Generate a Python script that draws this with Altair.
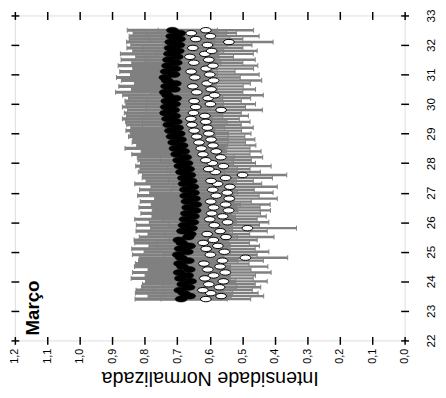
import altair as alt
import pandas as pd

# sample positions (22-33 axis)
t = [23.4, 23.5, 23.6, 23.7, 23.8, 23.9, 24.0, 24.1, 24.2, 24.3,
     24.4, 24.5, 24.6, 24.7, 24.8, 24.9, 25.0, 25.1, 25.2, 25.3,
     25.4, 25.5, 25.6, 25.7, 25.8, 25.9, 26.0, 26.1, 26.2, 26.3,
     26.4, 26.5, 26.6, 26.7, 26.8, 26.9, 27.0, 27.1, 27.2, 27.3,
     27.4, 27.5, 27.6, 27.7, 27.8, 27.9, 28.0, 28.1, 28.2, 28.3,
     28.4, 28.5, 28.6, 28.7, 28.8, 28.9, 29.0, 29.1, 29.2, 29.3,
     29.4, 29.5, 29.6, 29.7, 29.8, 29.9, 30.0, 30.1, 30.2, 30.3,
     30.4, 30.5, 30.6, 30.7, 30.8, 30.9, 31.0, 31.1, 31.2, 31.3,
     31.4, 31.5, 31.6, 31.7, 31.8, 31.9, 32.0, 32.1, 32.2, 32.3,
     32.4, 32.5]

black = [0.688, 0.662, 0.679, 0.692, 0.664, 0.683, 0.659, 0.690, 0.668, 0.694,
         0.663, 0.684, 0.693, 0.666, 0.688, 0.697, 0.669, 0.691, 0.662, 0.686,
         0.695, 0.666, 0.660, 0.684, 0.656, 0.679, 0.652, 0.676, 0.650, 0.672,
         0.645, 0.668, 0.643, 0.670, 0.647, 0.674, 0.650, 0.675, 0.652, 0.679,
         0.657, 0.681, 0.661, 0.687, 0.665, 0.692, 0.670, 0.696, 0.674, 0.702,
         0.680, 0.707, 0.685, 0.711, 0.690, 0.716, 0.694, 0.721, 0.699, 0.726,
         0.703, 0.730, 0.708, 0.736, 0.711, 0.734, 0.708, 0.732, 0.705, 0.730,
         0.737, 0.709, 0.733, 0.706, 0.731, 0.738, 0.710, 0.734, 0.707, 0.730,
         0.703, 0.727, 0.700, 0.724, 0.697, 0.722, 0.695, 0.720, 0.693, 0.717,
         0.692, 0.715]

black_err = [0.142, 0.128, 0.150, 0.135, 0.146, 0.124, 0.139, 0.152, 0.131, 0.144,
             0.127, 0.148, 0.136, 0.153, 0.129, 0.141, 0.133, 0.149, 0.125, 0.145,
             0.138, 0.151, 0.130, 0.143, 0.126, 0.147, 0.134, 0.155, 0.128, 0.140,
             0.132, 0.150, 0.137, 0.144, 0.123, 0.148, 0.135, 0.141, 0.129, 0.152,
             0.139, 0.127, 0.146, 0.133, 0.150, 0.136, 0.143, 0.125, 0.149, 0.138,
             0.131, 0.154, 0.140, 0.128, 0.147, 0.134, 0.151, 0.137, 0.144, 0.130,
             0.156, 0.139, 0.148, 0.127, 0.142, 0.135, 0.150, 0.129, 0.145, 0.138,
             0.153, 0.132, 0.147, 0.126, 0.141, 0.149, 0.134, 0.143, 0.130, 0.152,
             0.137, 0.146, 0.128, 0.151, 0.140, 0.133, 0.148, 0.136, 0.155, 0.131,
             0.144, 0.139]

white = [0.612, 0.565, 0.597, 0.621, 0.570, 0.603, 0.558, 0.615, 0.588, 0.552,
         0.606, 0.568, 0.618, 0.561, 0.490, 0.598, 0.555, 0.611, 0.575, 0.620,
         0.589, 0.550, 0.608, 0.568, 0.484, 0.586, 0.545, 0.600, 0.560, 0.594,
         0.542, 0.588, 0.551, 0.597, 0.540, 0.580, 0.546, 0.591, 0.538, 0.576,
         0.596, 0.551, 0.499, 0.583, 0.603, 0.558, 0.592, 0.612, 0.566, 0.621,
         0.580, 0.626, 0.590, 0.633, 0.596, 0.640, 0.603, 0.648, 0.607, 0.655,
         0.612, 0.658, 0.615, 0.650, 0.565, 0.643, 0.598, 0.648, 0.605, 0.585,
         0.640, 0.596, 0.652, 0.608, 0.588, 0.646, 0.600, 0.657, 0.611, 0.590,
         0.649, 0.603, 0.661, 0.615, 0.594, 0.652, 0.607, 0.541, 0.643, 0.598,
         0.657, 0.612]

white_err = [0.138, 0.131, 0.146, 0.152, 0.127, 0.143, 0.135, 0.149, 0.129, 0.141,
             0.133, 0.147, 0.139, 0.126, 0.130, 0.144, 0.137, 0.151, 0.128, 0.142,
             0.135, 0.148, 0.131, 0.145, 0.151, 0.139, 0.127, 0.146, 0.134, 0.150,
             0.129, 0.143, 0.137, 0.125, 0.148, 0.132, 0.141, 0.128, 0.146, 0.136,
             0.130, 0.144, 0.136, 0.139, 0.127, 0.147, 0.133, 0.140, 0.129, 0.145,
             0.138, 0.150, 0.132, 0.143, 0.135, 0.148, 0.130, 0.146, 0.141, 0.152,
             0.136, 0.149, 0.134, 0.147, 0.127, 0.153, 0.139, 0.145, 0.131, 0.150,
             0.142, 0.137, 0.155, 0.133, 0.148, 0.140, 0.152, 0.135, 0.146, 0.138,
             0.151, 0.143, 0.134, 0.149, 0.140, 0.154, 0.137, 0.136, 0.145, 0.150,
             0.139, 0.147]

x_ticks = [0.0, 0.1, 0.2, 0.3, 0.4, 0.5, 0.6, 0.7, 0.8, 0.9, 1.0, 1.1, 1.2]
y_ticks = [22, 23, 24, 25, 26, 27, 28, 29, 30, 31, 32, 33]

df = pd.DataFrame({"t": t, "black": black, "black_err": black_err,
                   "white": white, "white_err": white_err})

FONT = "Liberation Sans"
GRAY = "#808080"
ELLIPSE = "M-1,0A1,0.5,0,1,0,1,0A1,0.5,0,1,0,-1,0Z"
CAP = "M0,-1L0,1"

xscale = alt.Scale(domain=[0, 1.2], reverse=True, nice=False, zero=False)
yscale = alt.Scale(domain=[22, 33], nice=False, zero=False)

tick_common = dict(values=x_ticks, tickSize=8, offset=-4, domain=False, grid=False,
                   tickColor="black", tickWidth=1.5)
ax_bottom = alt.Axis(orient="bottom", labelExpr="replace(format(datum.value, '.1f'), '.', ',')",
                     labelAngle=270, labelAlign="right", labelBaseline="middle",
                     labelFont=FONT, labelFontSize=11, labelColor="black", labelPadding=4,
                     title="Intensidade Normalizada", titleAngle=180, titleFont=FONT,
                     titleFontSize=20, titleFontWeight="normal", titleColor="black",
                     titleBaseline="middle", titleY=42, **tick_common)
ax_top = alt.Axis(orient="top", labels=False, title="", **tick_common)
ytick_common = dict(values=y_ticks, tickSize=8, offset=-4, domain=False, grid=False,
                    tickColor="black", tickWidth=1.5)
ax_right = alt.Axis(orient="right", labelAngle=270, labelAlign="center", labelBaseline="top",
                    labelFont=FONT, labelFontSize=12, labelColor="black", labelPadding=17,
                    title="", **ytick_common)
ax_left = alt.Axis(orient="left", labels=False, title="", **ytick_common)

base = alt.Chart(df).transform_calculate(
    blo="datum.black - datum.black_err", bhi="datum.black + datum.black_err",
    wlo="datum.white - datum.white_err", whi="datum.white + datum.white_err",
)

err_b = base.mark_rule(color=GRAY, strokeWidth=3.2).encode(
    x=alt.X("blo:Q", scale=xscale, axis=ax_bottom),
    x2="bhi:Q",
    y=alt.Y("t:Q", scale=yscale, axis=ax_right),
)
err_w = base.mark_rule(color=GRAY, strokeWidth=2.4).encode(
    x=alt.X("wlo:Q", scale=xscale, axis=ax_top),
    x2="whi:Q",
    y=alt.Y("t:Q", scale=yscale, axis=ax_left),
)
caps = []
for f in ["blo", "bhi", "wlo", "whi"]:
    caps.append(base.mark_point(shape=CAP, size=25, stroke=GRAY, strokeWidth=1, opacity=1).encode(
        x=alt.X(f + ":Q", scale=xscale, axis=None),
        y=alt.Y("t:Q", scale=yscale, axis=None),
    ))
pts_b = base.mark_point(shape=ELLIPSE, size=150, filled=True, fill="black", stroke="black",
                        strokeWidth=0.5, opacity=1).encode(
    x=alt.X("black:Q", scale=xscale, axis=None),
    y=alt.Y("t:Q", scale=yscale, axis=None),
)
pts_w = base.mark_point(shape=ELLIPSE, size=121, filled=True, fill="white", stroke="black",
                        strokeWidth=1, opacity=1).encode(
    x=alt.X("white:Q", scale=xscale, axis=None),
    y=alt.Y("t:Q", scale=yscale, axis=None),
)
label = alt.Chart(pd.DataFrame({"txt": ["Março"]})).mark_text(
    angle=270, align="left", baseline="middle", font=FONT, fontSize=19, fontWeight="bold",
    color="black").encode(text="txt:N", x=alt.value(19), y=alt.value(326))

chart = alt.layer(err_b, err_w, *caps, pts_b, pts_w, label).resolve_axis(
    x="independent", y="independent"
).properties(
    width=397, height=331,
    autosize=alt.AutoSizeParams(type="none"),
    padding={"left": 7, "top": 4, "right": 34, "bottom": 52},
).configure_view(stroke="black", strokeWidth=1.5).configure(background="white")

chart.save("out.html", embed_options={"renderer": "svg", "actions": False})
